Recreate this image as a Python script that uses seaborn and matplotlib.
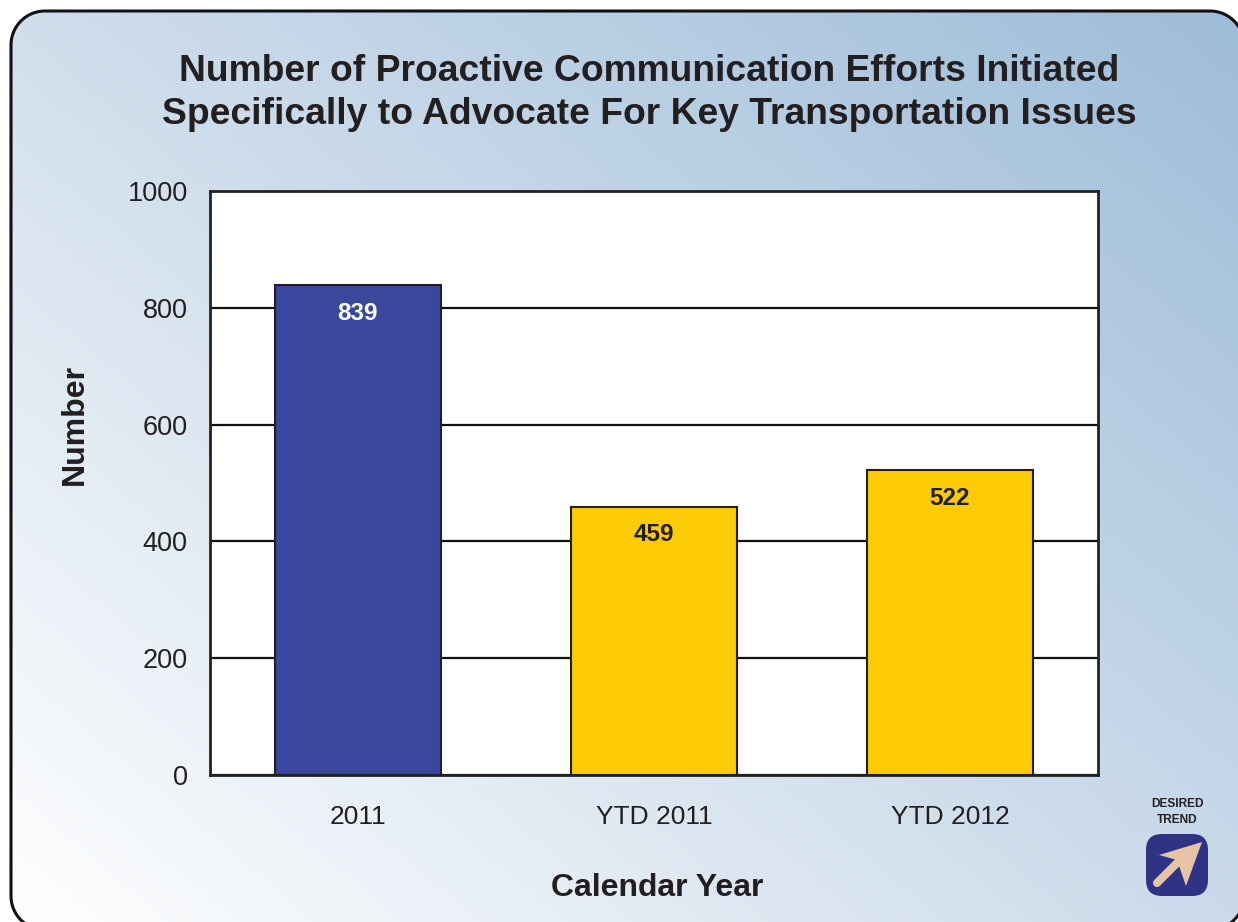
import numpy as np
import pandas as pd
import matplotlib
matplotlib.use("Agg")
import matplotlib.pyplot as plt
import seaborn as sns
from matplotlib.colors import LinearSegmentedColormap
from matplotlib.patches import FancyBboxPatch, Polygon, PathPatch
from matplotlib.path import Path
from matplotlib.lines import Line2D

categories = ["2011", "YTD 2011", "YTD 2012"]
values = [839, 459, 522]
bar_colors = ["#39479D", "#FDCB06", "#FDCB06"]
label_colors = ["white", "#231F20", "#231F20"]
yticks = [0, 200, 400, 600, 800, 1000]

sns.set_theme(style="white")
plt.rcParams['font.family'] = ['Liberation Sans', 'DejaVu Sans']
W, H = 1238, 922
fig = plt.figure(figsize=(W/100, H/100), dpi=100, facecolor="white")


def rounded_outline(x0, y0, x1, y1, r, n=40):
    pts = []
    corners = [(x0 + r, y0 + r, 180), (x1 - r, y0 + r, 270),
               (x1 - r, y1 - r, 0), (x0 + r, y1 - r, 90)]
    for cx, cy, start in corners:
        t = np.radians(np.linspace(start, start + 90, n))
        pts.append(np.column_stack([cx + r*np.cos(t), cy + r*np.sin(t)]))
    pts = np.vstack(pts)
    return Path(np.vstack([pts, pts[0]]), closed=True)


# background
bgax = fig.add_axes([0, 0, 1, 1], zorder=0)
bgax.set_xlim(0, W); bgax.set_ylim(H, 0); bgax.axis("off")
cmap = LinearSegmentedColormap.from_list("bg", ["#FFFFFF", "#CDDCEB", "#9DBCD9"])
xx, yy = np.meshgrid(np.linspace(0, 1, 400), np.linspace(1, 0, 300))
grad = (xx*0.53 + yy*0.47)
im = bgax.imshow(grad, extent=[0, W, H, 0], cmap=cmap, aspect="auto", vmin=0, vmax=1)
clip = PathPatch(rounded_outline(11, 11, 1244, 930, 34), fc="none", ec="#111111", lw=2.2)
bgax.add_patch(clip)
im.set_clip_path(clip)

ax = fig.add_axes([210/W, 1-775/H, (1098-210)/W, (775-191)/H], zorder=1)
ax.set_facecolor("white")
df = pd.DataFrame({"cat": categories, "val": values})
sns.barplot(data=df, x="cat", y="val", hue="cat", palette=bar_colors, legend=False,
            width=0.56, edgecolor="#231F20", linewidth=1.5, saturation=1, ax=ax, zorder=3)
ax.set_ylim(0, 1000)
ax.set_xlim(-0.5, 2.5)
ax.set_yticks(yticks)
ax.yaxis.grid(True, color="#111111", lw=1.6, zorder=1)
ax.xaxis.grid(False)
ax.set_axisbelow(True)
for s in ax.spines.values():
    s.set_visible(True); s.set_color("#222222"); s.set_linewidth(2)
ax.tick_params(axis="y", labelsize=19.5, colors="#231F20", left=False, pad=10)
ax.tick_params(axis="x", labelsize=19, colors="#231F20", bottom=False, pad=15.7)
ax.set_xlabel("Calendar Year", fontsize=23, fontweight="bold", color="#231F20", labelpad=31.5, x=0.504)
ax.set_ylabel("Number", fontsize=23, fontweight="bold", color="#231F20", labelpad=27, y=0.601)
for c, v, col in zip(range(3), values, label_colors):
    ax.annotate(str(v), (c, v), xytext=(0, -28), textcoords="offset pixels",
                ha="center", va="center", fontsize=17.5, fontweight="bold", color=col, zorder=5)

fig.text(649/W, 1-93/H, "Number of Proactive Communication Efforts Initiated\nSpecifically to Advocate For Key Transportation Issues",
         ha="center", va="center", fontsize=26.8, fontweight="bold", color="#231F20", linespacing=1.27)

# desired trend badge
bgax.text(1177, 812, "DESIRED\nTREND", ha="center", va="center", fontsize=8.6, fontweight="bold",
          color="#231F20", linespacing=1.5, zorder=5)
bgax.add_patch(FancyBboxPatch((1146, 834), 62, 62, boxstyle="round,pad=0,rounding_size=16",
                              fc="#2E3385", ec="none", zorder=5))
bgax.add_line(Line2D([1157, 1182], [883, 858], color="#E6C2A6", lw=5.8, solid_capstyle="round", zorder=6))
bgax.add_patch(Polygon([(1202, 842), (1159, 855), (1177, 860), (1186, 886)], closed=True,
                       fc="#E6C2A6", ec="none", zorder=6))
fig.savefig("out.png", dpi=100)
